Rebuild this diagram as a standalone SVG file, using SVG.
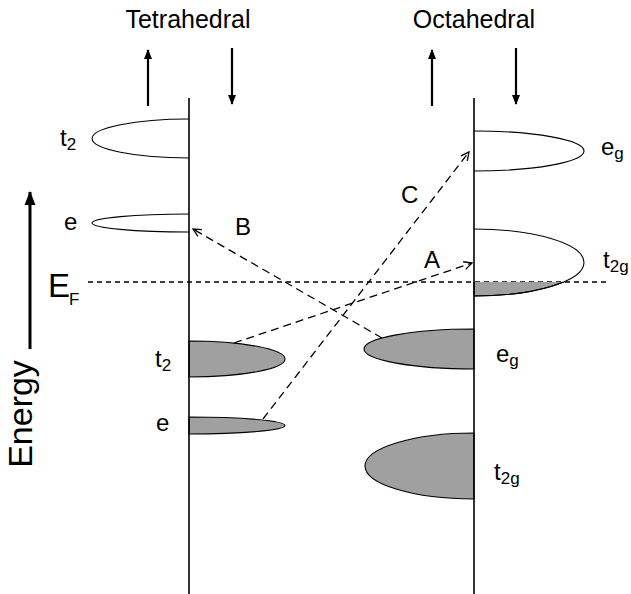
<svg xmlns="http://www.w3.org/2000/svg" width="631" height="594" viewBox="0 0 631 594">
<style>
text{font-family:"Liberation Sans",Arial,sans-serif;fill:#000}
.lbl{font-size:24px}
.sub{font-size:17px}
.axis{stroke:#000;stroke-width:1.6;fill:none}
.open{fill:#fff;stroke:#000;stroke-width:1.1}
.fill{fill:#a0a0a0;stroke:#000;stroke-width:1.1}
.spin{stroke:#000;stroke-width:2.2;fill:none}
.dash{stroke:#000;stroke-width:1.3;fill:none;stroke-dasharray:8 5}
</style>
<defs>
<marker id="head" markerWidth="10" markerHeight="10" refX="9" refY="5" orient="auto" markerUnits="userSpaceOnUse" viewBox="0 0 10 10">
<path d="M1,1 L9,5 L1,9" fill="none" stroke="#000" stroke-width="1.3" stroke-dasharray="none"/>
</marker>
<marker id="solid" markerWidth="10" markerHeight="12" refX="9" refY="5" orient="auto" markerUnits="userSpaceOnUse" viewBox="0 0 10 10">
<path d="M0,1 L10,5 L0,9 Z" fill="#000"/>
</marker>
<marker id="big" markerWidth="14" markerHeight="12" refX="13" refY="6" orient="auto" markerUnits="userSpaceOnUse" viewBox="0 0 14 12">
<path d="M0,0.5 L14,6 L0,11.5 Z" fill="#000"/>
</marker>
<clipPath id="belowEF"><rect x="470" y="282" width="130" height="30"/></clipPath>
</defs>

<g id="titles">
<text x="188" y="28" font-size="25" text-anchor="middle">Tetrahedral</text>
<text x="474" y="28" font-size="25" text-anchor="middle">Octahedral</text>
</g>

<g id="spin-arrows">
<line class="spin" x1="148" y1="106" x2="148" y2="50" marker-end="url(#solid)"/>
<line class="spin" x1="232" y1="48" x2="232" y2="104" marker-end="url(#solid)"/>
<line class="spin" x1="432" y1="106" x2="432" y2="50" marker-end="url(#solid)"/>
<line class="spin" x1="516" y1="48" x2="516" y2="104" marker-end="url(#solid)"/>
</g>

<g id="energy-axis">
<line x1="30" y1="349" x2="30" y2="192" stroke="#000" stroke-width="3" marker-end="url(#big)"/>
<text transform="translate(32,414) rotate(-90)" font-size="34" text-anchor="middle">Energy</text>
</g>

<g id="fermi-level">
<text x="48" y="297" font-size="33">E</text>
<text x="69" y="305" font-size="17">F</text>
<line x1="88" y1="282" x2="610" y2="282" stroke="#000" stroke-width="1.4" stroke-dasharray="5 4"/>
</g>

<g id="tet-t2-up">
<path class="open" d="M189,119 A97,19.5 0 0 0 189,158"/>
<text class="lbl" x="60" y="146">t<tspan class="sub" dy="4">2</tspan></text>
</g>
<g id="tet-e-up">
<path class="open" d="M189,214 A97,9 0 0 0 189,232"/>
<text class="lbl" x="64" y="230">e</text>
</g>
<g id="tet-t2-down">
<path class="fill" d="M189,341 A96,18 0 0 1 189,377 Z"/>
<text class="lbl" x="155" y="367">t<tspan class="sub" dy="4">2</tspan></text>
</g>
<g id="tet-e-down">
<path class="fill" d="M189,417 A96,8.5 0 0 1 189,434 Z"/>
<text class="lbl" x="156" y="431">e</text>
</g>

<g id="oct-eg-down">
<path class="open" d="M474,131 A110,20 0 0 1 474,171"/>
<text class="lbl" x="601" y="155">e<tspan class="sub" dy="4">g</tspan></text>
</g>
<g id="oct-t2g-down">
<path class="fill" stroke="none" d="M474,229 A110,33.5 0 0 1 474,296 Z" clip-path="url(#belowEF)"/>
<path class="open" style="fill:none" d="M474,229 A110,33.5 0 0 1 474,296"/>
<text class="lbl" x="603" y="268">t<tspan class="sub" dy="4">2g</tspan></text>
</g>
<g id="oct-eg-up">
<path class="fill" d="M474,329 A110,20 0 0 0 474,369 Z"/>
<text class="lbl" x="496" y="362">e<tspan class="sub" dy="4">g</tspan></text>
</g>
<g id="oct-t2g-up">
<path class="fill" d="M474,433 A109,33 0 0 0 474,499 Z"/>
<text class="lbl" x="494" y="480">t<tspan class="sub" dy="4">2g</tspan></text>
</g>

<g id="axes">
<line class="axis" x1="189" y1="98" x2="189" y2="594"/>
<line class="axis" x1="474" y1="98" x2="474" y2="594"/>
</g>

<g id="connectors">
<line class="dash" x1="234" y1="343" x2="472" y2="263" marker-end="url(#head)"/>
<line class="dash" x1="382" y1="338" x2="193" y2="229" marker-end="url(#head)"/>
<line class="dash" x1="263" y1="419" x2="469" y2="152" marker-end="url(#head)"/>
<text class="lbl" x="424" y="268">A</text>
<text class="lbl" x="235" y="235">B</text>
<text class="lbl" x="401" y="203">C</text>
</g>
</svg>
